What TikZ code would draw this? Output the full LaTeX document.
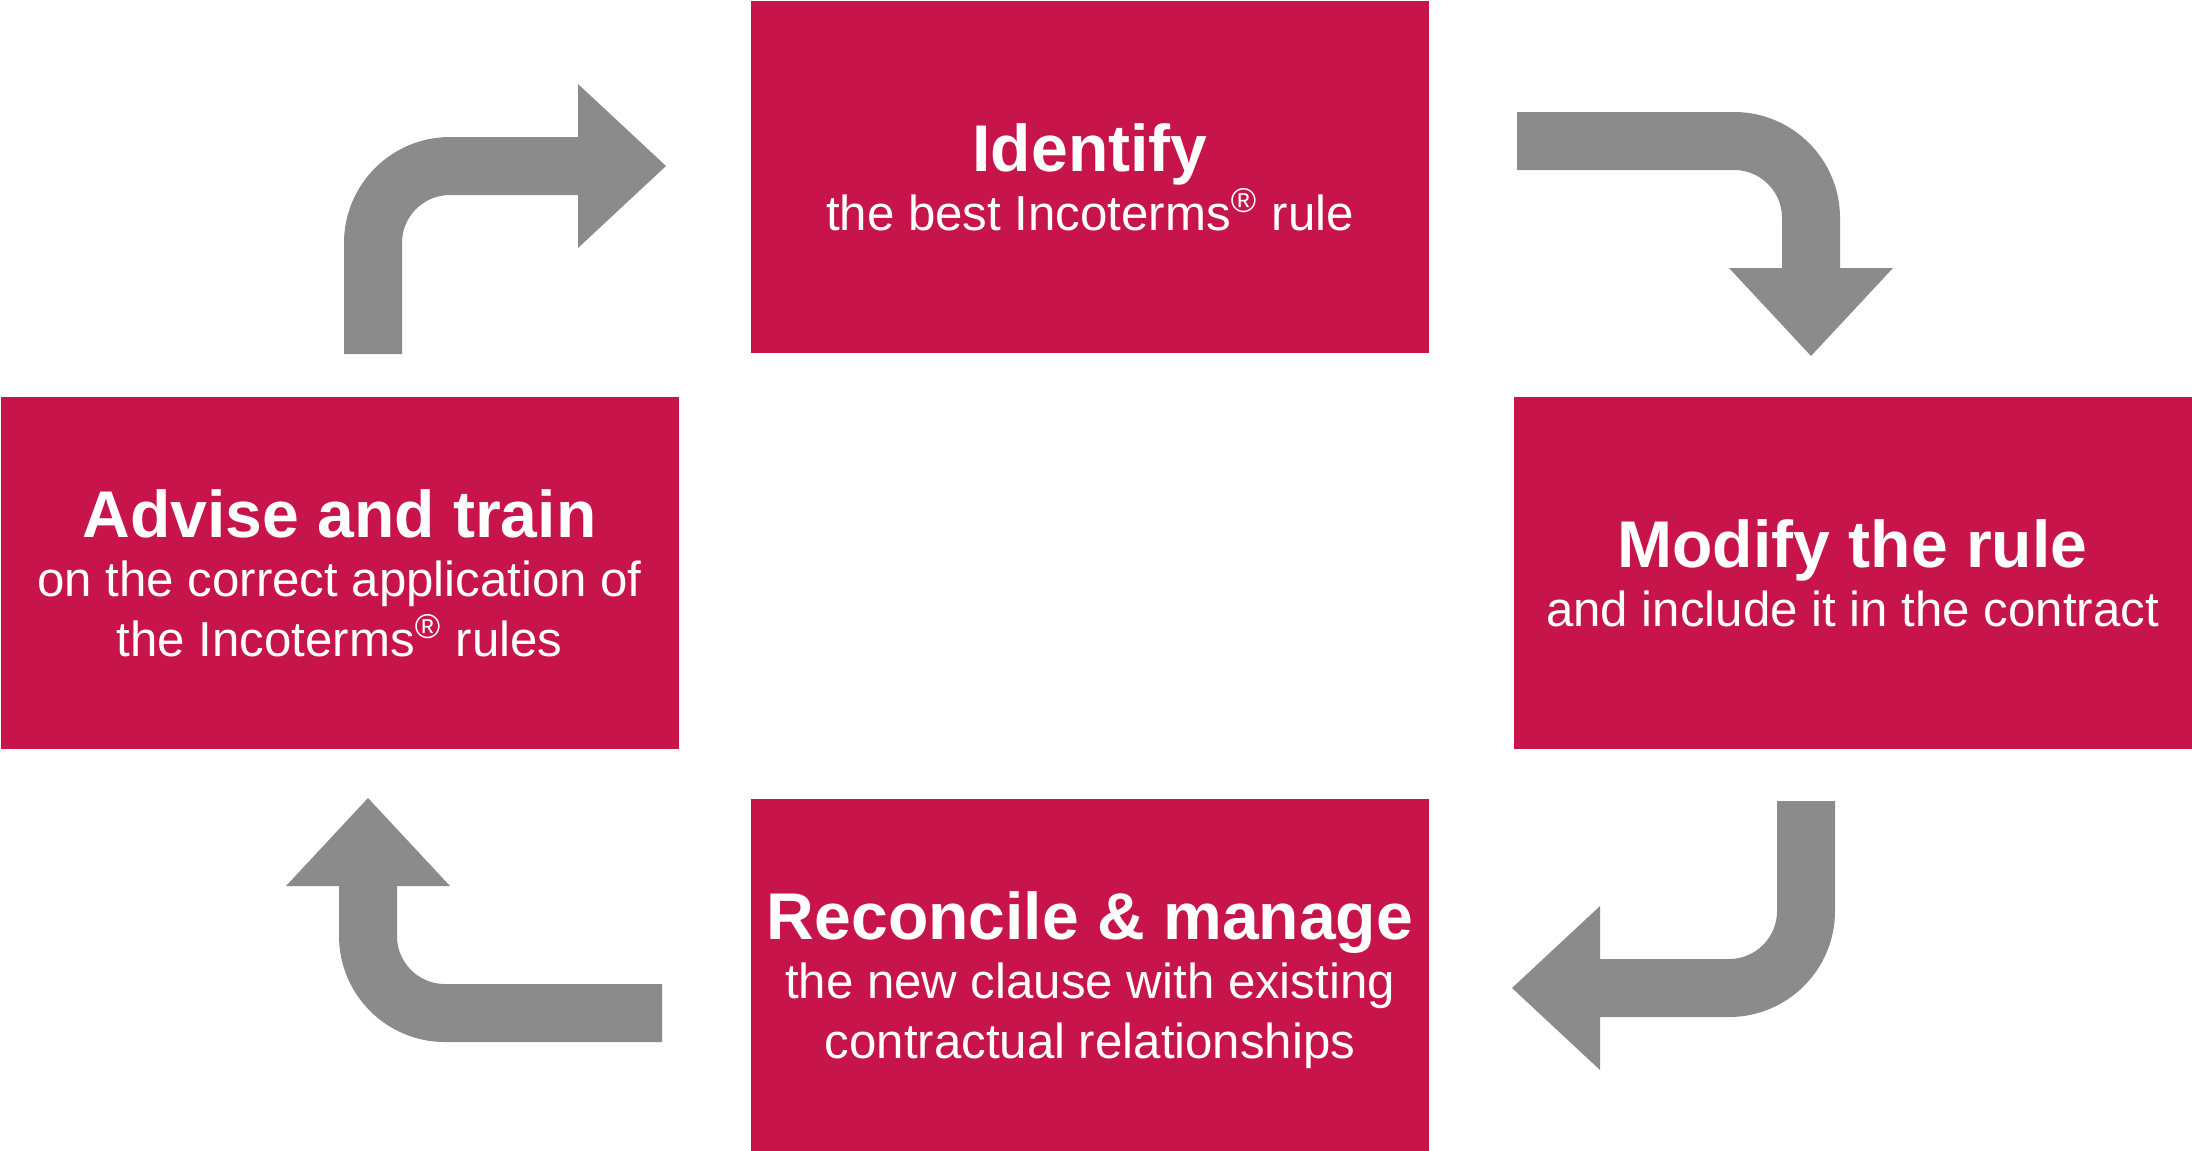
\documentclass[tikz,border=0pt]{standalone}
\usepackage{fontspec}
\setmainfont{Liberation Sans}
\usetikzlibrary{arrows, arrows.meta}
\usetikzlibrary{calc}
\definecolor{crimson}{RGB}{199,20,74}
\definecolor{flowgray}{RGB}{139,139,139}
\newcommand{\steptitle}[1]{{\fontsize{18.8}{17}\selectfont\bfseries #1}}
\newcommand{\regmark}{\textsuperscript{®}}

\begin{document}
\begin{tikzpicture}[x=0.1mm, y=-0.1mm,
    stepbox/.style={rectangle, fill=crimson, text=white, align=center, inner sep=0pt,
      minimum width=67.8mm, minimum height=35.2mm, text depth=0pt,
      font=\fontsize{14}{17}\selectfont},
    flow/.style={draw=flowgray, line width=5.8mm, rounded corners=7.7mm,
      -{Triangle[length=8.8mm, width=16.4mm, line width=0pt]}}]
  \useasboundingbox (0, 0) rectangle (2192, 1150);

  \node[stepbox] (identify) at (1090, 177) {\steptitle{Identify}\\the best Incoterms\regmark{} rule};
  \node[stepbox] (modify) at (1852.5, 573) {\steptitle{Modify the rule}\\and include it in the contract};
  \node[stepbox] (reconcile) at (1090, 975) {\steptitle{Reconcile \& manage}\\the new clause with existing\\contractual relationships};
  \node[stepbox] (advise) at (339.5, 573) {\steptitle{Advise and train}\\on the correct application of\\the Incoterms\regmark{} rules};

  % free ends of the bent arrows
  \coordinate (a1s) at (373, 354);
  \coordinate (a1e) at (666, 166);
  \coordinate (a2s) at (1517, 141);
  \coordinate (a2e) at (1811, 356);
  \coordinate (a3s) at (1806, 801);
  \coordinate (a3e) at (1512, 988);
  \coordinate (a4s) at (662, 1013);
  \coordinate (a4e) at (368, 798);

  \draw[flow] (a1s) |- (a1e);
  \draw[flow] (a2s) -| (a2e);
  \draw[flow] (a3s) |- (a3e);
  \draw[flow] (a4s) -| (a4e);
\end{tikzpicture}
\end{document}
